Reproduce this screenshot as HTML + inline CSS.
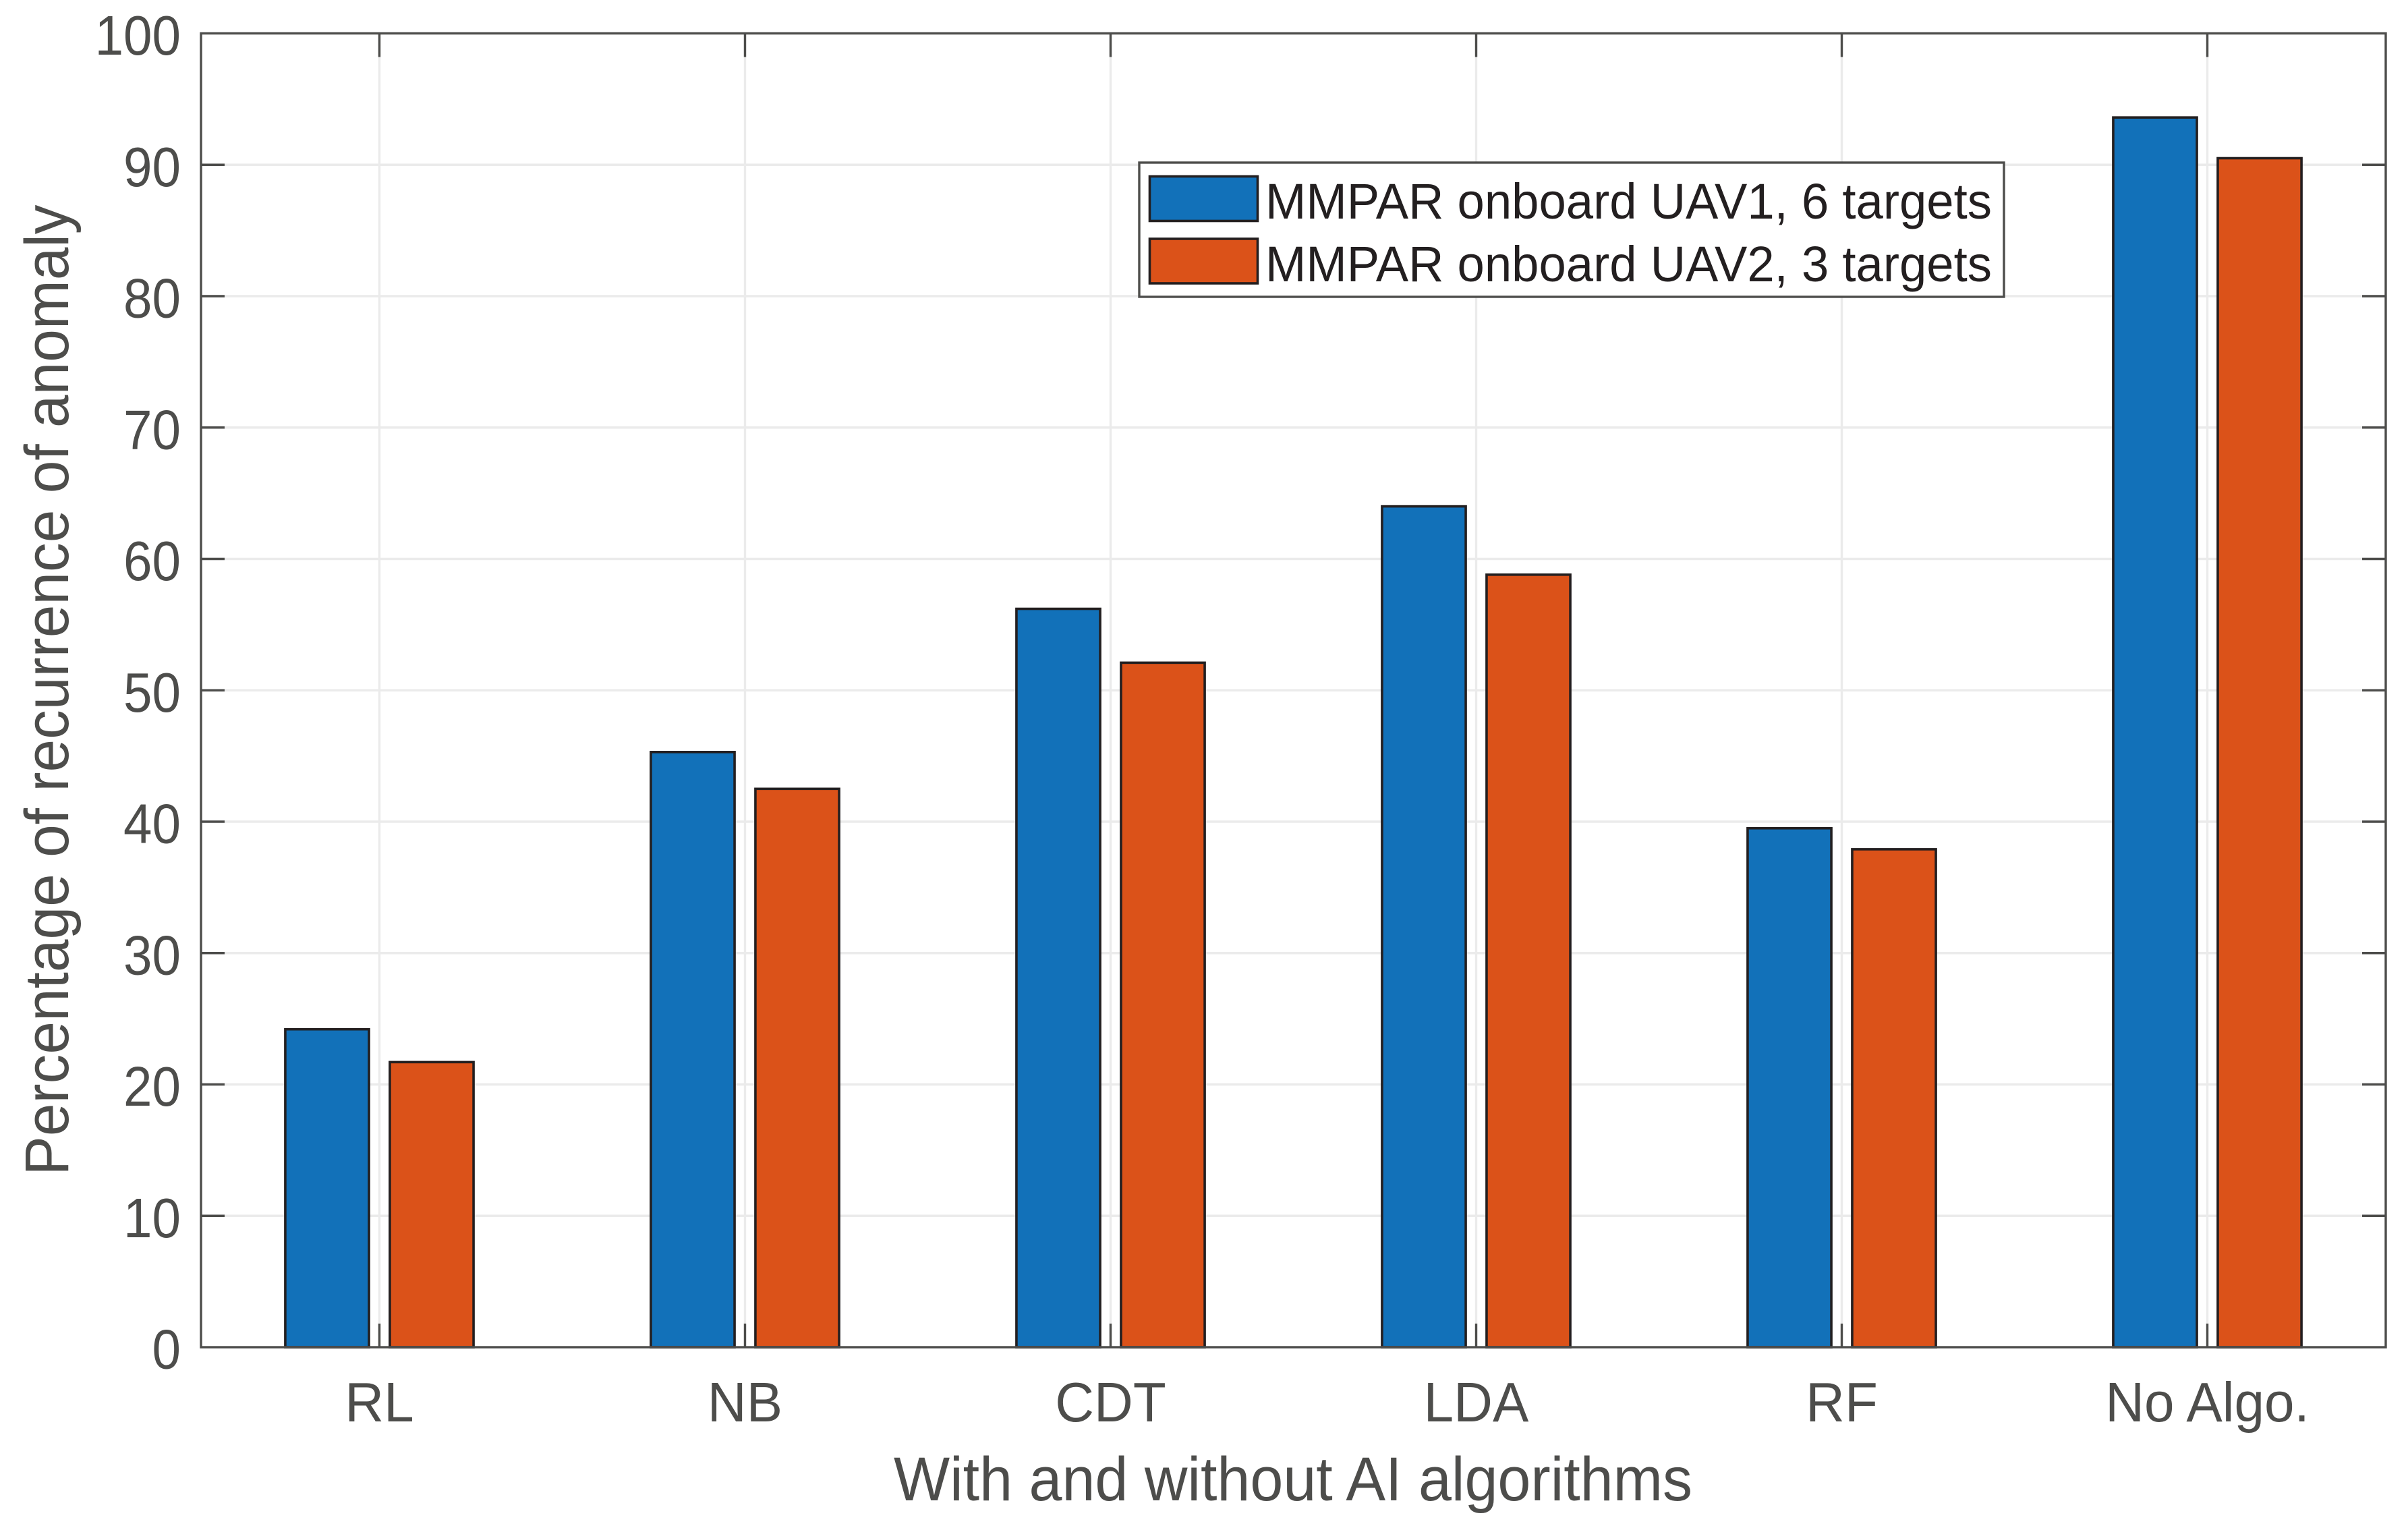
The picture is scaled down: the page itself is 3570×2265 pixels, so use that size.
<!DOCTYPE html>
<html lang="en">
<head>
<meta charset="utf-8">
<title>Percentage of recurrence of anomaly</title>
<style>
html,body{margin:0;padding:0;background:#fff;width:3570px;height:2265px;overflow:hidden}
svg{display:block}
text{font-family:"Liberation Sans",Arial,sans-serif}
</style>
</head>
<body>
<svg id="chart" xmlns="http://www.w3.org/2000/svg" width="3570" height="2265" viewBox="0 0 3570 2265">
  <rect x="0" y="0" width="3570" height="2265" fill="#ffffff"/>
  <g id="grid"></g>
  <g id="ticks"></g>
  <g id="bars"></g>
  <rect x="298" y="49.5" width="3239" height="1947.5" fill="none" stroke="#4d4d4b" stroke-width="3.4"/>
  <g id="labels"></g>
  <text x="1917" y="2224" text-anchor="middle" font-size="92" fill="#4d4d4b" textLength="1184" lengthAdjust="spacingAndGlyphs">With and without AI algorithms</text>
  <text transform="translate(101,1023) rotate(-90)" x="0" y="0" text-anchor="middle" font-size="92" fill="#4d4d4b" textLength="1439" lengthAdjust="spacingAndGlyphs">Percentage of recurrence of anomaly</text>
  <g>
    <rect x="1689" y="241" width="1282" height="199" fill="#ffffff" stroke="#4d4d4b" stroke-width="3.4"/>
    <rect x="1704.5" y="261.5" width="160" height="66" fill="#1271b9" stroke="#231f20" stroke-width="3.6"/>
    <text x="1876" y="324" font-size="74" fill="#231f20" textLength="1077" lengthAdjust="spacingAndGlyphs">MMPAR onboard UAV1, 6 targets</text>
    <rect x="1704.5" y="354" width="160" height="66" fill="#db5219" stroke="#231f20" stroke-width="3.6"/>
    <text x="1876" y="417" font-size="74" fill="#231f20" textLength="1077" lengthAdjust="spacingAndGlyphs">MMPAR onboard UAV2, 3 targets</text>
  </g>
</svg>
<script>
const categories = ['RL', 'NB', 'CDT', 'LDA', 'RF', 'No Algo.'];
const uav1Values = [24.2, 45.3, 56.2, 64.0, 39.5, 93.6];
const uav2Values = [21.7, 42.5, 52.1, 58.8, 37.9, 90.5];
const yTickValues = [0, 10, 20, 30, 40, 50, 60, 70, 80, 90, 100];

const plotLeft = 298, plotRight = 3537, plotTop = 49.5, plotBottom = 1997;
const xMin = 0.512, xMax = 6.488, yMin = 0, yMax = 100;
const barWidth = 0.229, barOffset = 0.143, tickLength = 35;
const axisColor = '#4d4d4b', gridColor = '#ebebeb', edgeColor = '#231f20';
const NS = 'http://www.w3.org/2000/svg';

function xScale(c) { return plotLeft + (c - xMin) / (xMax - xMin) * (plotRight - plotLeft); }
function yScale(v) { return plotBottom - (v - yMin) / (yMax - yMin) * (plotBottom - plotTop); }

function makeLine(x1, y1, x2, y2, color, width) {
  const el = document.createElementNS(NS, 'line');
  el.setAttribute('x1', x1);
  el.setAttribute('y1', y1);
  el.setAttribute('x2', x2);
  el.setAttribute('y2', y2);
  el.setAttribute('stroke', color);
  el.setAttribute('stroke-width', width);
  return el;
}
function makeLabel(str, x, y, anchor) {
  const el = document.createElementNS(NS, 'text');
  el.setAttribute('x', x);
  el.setAttribute('y', y);
  el.setAttribute('text-anchor', anchor);
  el.setAttribute('font-size', '83');
  el.setAttribute('fill', axisColor);
  el.textContent = str;
  return el;
}
function squeeze(el, factor) {
  el.setAttribute('textLength', el.getComputedTextLength() * factor);
  el.setAttribute('lengthAdjust', 'spacingAndGlyphs');
}
function makeBar(category, value, offset, fill) {
  const el = document.createElementNS(NS, 'rect');
  const x0 = xScale(category + offset - barWidth / 2);
  const x1 = xScale(category + offset + barWidth / 2);
  el.setAttribute('x', x0);
  el.setAttribute('y', yScale(value));
  el.setAttribute('width', x1 - x0);
  el.setAttribute('height', yScale(0) - yScale(value));
  el.setAttribute('fill', fill);
  el.setAttribute('stroke', edgeColor);
  el.setAttribute('stroke-width', '3.6');
  return el;
}

const grid = document.getElementById('grid');
const ticks = document.getElementById('ticks');
const bars = document.getElementById('bars');
const labels = document.getElementById('labels');

yTickValues.forEach(function (v) {
  const y = yScale(v);
  if (v !== yMin && v !== yMax) {
    const g = makeLine(plotLeft, y, plotRight, y, gridColor, 3.4);
    
    
    grid.appendChild(g);
    const tl = makeLine(plotLeft, y, plotLeft + tickLength, y, axisColor, 3.4);
    
    
    ticks.appendChild(tl);
    const tr = makeLine(plotRight, y, plotRight - tickLength, y, axisColor, 3.4);
    
    
    ticks.appendChild(tr);
  }
  const lab = makeLabel(String(v), 268, y + 31.5, 'end');
  
  
  labels.appendChild(lab);
  squeeze(lab, 0.92);
});

categories.forEach(function (name, i) {
  const c = i + 1;
  const x = xScale(c);
  const g = makeLine(x, plotTop, x, plotBottom, gridColor, 3.4);
  
  
  grid.appendChild(g);
  const tt = makeLine(x, plotTop, x, plotTop + tickLength, axisColor, 3.4);
  
  
  ticks.appendChild(tt);
  const tb = makeLine(x, plotBottom, x, plotBottom - tickLength, axisColor, 3.4);
  
  
  ticks.appendChild(tb);
  const b1 = makeBar(c, uav1Values[i], -barOffset, '#1271b9');
  
  
  bars.appendChild(b1);
  const b2 = makeBar(c, uav2Values[i], barOffset, '#db5219');
  
  
  bars.appendChild(b2);
  const lab = makeLabel(name, x, 2107, 'middle');
  
  
  labels.appendChild(lab);
  squeeze(lab, 0.964);
});
</script>
</body>
</html>
